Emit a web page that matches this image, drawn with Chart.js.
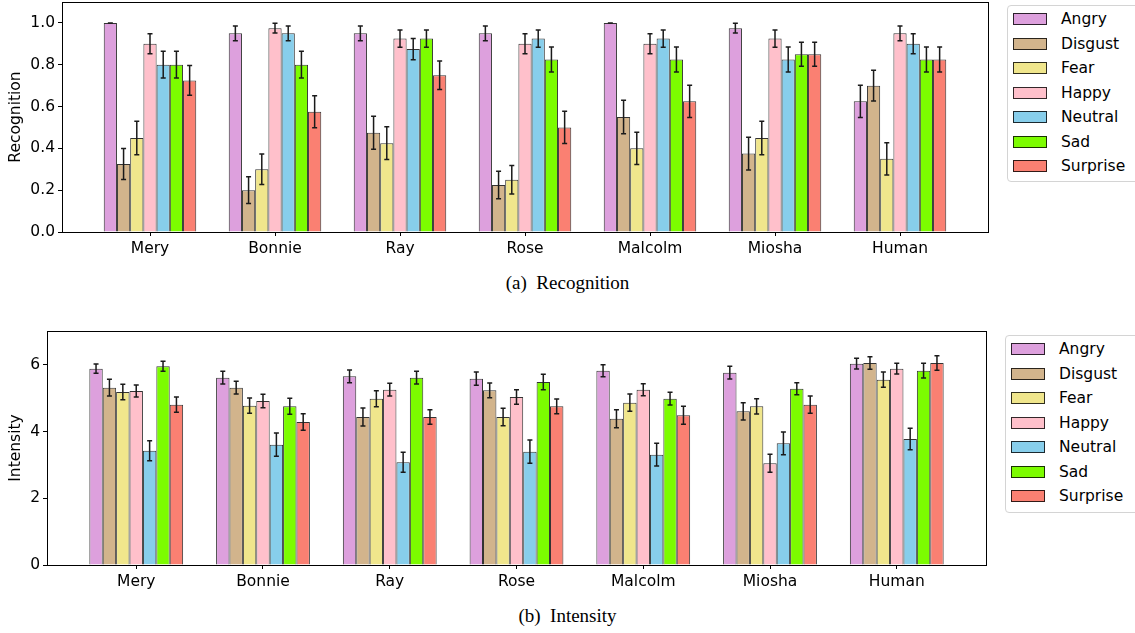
<!DOCTYPE html>
<html>
<head>
<meta charset="utf-8">
<script src="https://cdn.jsdelivr.net/npm/chart.js@4/dist/chart.umd.min.js"></script>
<style>
  html, body { margin: 0; padding: 0; background: #fff; overflow: hidden; }
  body { width: 1135px; height: 633px; position: relative; font-family: "DejaVu Sans", sans-serif; }
  canvas { position: absolute; left: 0; }
  .legend { position: absolute; border: 1px solid #d4d4d4; border-radius: 4px; background: #fff;
            width: 140px; box-sizing: border-box; padding-top: 1px; }
  .legend .row { height: 24.5px; display: flex; align-items: center; font-size: 15.5px; color: #000; }
  .legend .sw { width: 34px; height: 12px; box-sizing: border-box; border: 1px solid rgba(0,0,0,0.8);
                margin-left: 5px; margin-right: 14px; }
  .caption { position: absolute; left: 0; width: 1135px; text-align: center;
             font-family: "Liberation Serif", "Times New Roman", serif; font-size: 19px; color: #000; }
</style>
</head>
<body>
<canvas id="chart1" width="1000" height="265" style="top:0px"></canvas>
<div class="legend" id="legend1" style="left:1007px; top:5px; height:177px"></div>
<div class="caption" style="top:272px">(a)&nbsp; Recognition</div>

<canvas id="chart2" width="1000" height="280" style="top:320px"></canvas>
<div class="legend" id="legend2" style="left:1005px; top:335px; height:178px"></div>
<div class="caption" style="top:605px">(b)&nbsp; Intensity</div>

<script>
const subjects = ['Mery', 'Bonnie', 'Ray', 'Rose', 'Malcolm', 'Miosha', 'Human'];
const emotions = ['Angry', 'Disgust', 'Fear', 'Happy', 'Neutral', 'Sad', 'Surprise'];
const colors = ['#DDA0DD', '#D2B48C', '#F0E68C', '#FFC0CB', '#87CEEB', '#7CFC00', '#FA8072'];

// recognition rate per emotion, one value per subject
const recAngry    = [1.0, 0.95, 0.95, 0.95, 1.0, 0.975, 0.625];
const recDisgust  = [0.325, 0.20, 0.475, 0.225, 0.55, 0.375, 0.70];
const recFear     = [0.45, 0.30, 0.425, 0.25, 0.40, 0.45, 0.35];
const recHappy    = [0.90, 0.975, 0.925, 0.90, 0.90, 0.925, 0.95];
const recNeutral  = [0.80, 0.95, 0.875, 0.925, 0.925, 0.825, 0.90];
const recSad      = [0.80, 0.80, 0.925, 0.825, 0.825, 0.85, 0.825];
const recSurprise = [0.725, 0.575, 0.75, 0.50, 0.625, 0.85, 0.825];

const recAngryErr    = [0, 0.035, 0.035, 0.035, 0, 0.023, 0.077];
const recDisgustErr  = [0.074, 0.064, 0.079, 0.066, 0.08, 0.078, 0.073];
const recFearErr     = [0.08, 0.073, 0.078, 0.068, 0.077, 0.08, 0.077];
const recHappyErr    = [0.048, 0.023, 0.041, 0.048, 0.048, 0.041, 0.035];
const recNeutralErr  = [0.064, 0.035, 0.051, 0.041, 0.041, 0.06, 0.048];
const recSadErr      = [0.064, 0.064, 0.041, 0.06, 0.06, 0.057, 0.06];
const recSurpriseErr = [0.071, 0.077, 0.068, 0.077, 0.077, 0.057, 0.06];

// intensity rating per emotion
const intAngry    = [5.89, 5.62, 5.66, 5.59, 5.83, 5.77, 6.04];
const intDisgust  = [5.32, 5.32, 4.44, 5.24, 4.39, 4.61, 6.06];
const intFear     = [5.19, 4.78, 4.99, 4.44, 4.87, 4.76, 5.56];
const intHappy    = [5.22, 4.92, 5.26, 5.04, 5.26, 3.05, 5.89];
const intNeutral  = [3.43, 3.61, 3.08, 3.40, 3.31, 3.65, 3.78];
const intSad      = [5.96, 4.76, 5.62, 5.49, 4.99, 5.29, 5.83];
const intSurprise = [4.81, 4.29, 4.44, 4.76, 4.49, 4.81, 6.06];

const intAngryErr    = [0.14, 0.19, 0.19, 0.20, 0.18, 0.19, 0.16];
const intDisgustErr  = [0.25, 0.19, 0.27, 0.22, 0.27, 0.26, 0.19];
const intFearErr     = [0.23, 0.23, 0.24, 0.26, 0.26, 0.23, 0.23];
const intHappyErr    = [0.18, 0.20, 0.19, 0.22, 0.18, 0.27, 0.16];
const intNeutralErr  = [0.30, 0.35, 0.30, 0.35, 0.34, 0.34, 0.32];
const intSadErr      = [0.15, 0.24, 0.19, 0.23, 0.19, 0.18, 0.22];
const intSurpriseErr = [0.23, 0.25, 0.22, 0.22, 0.27, 0.26, 0.22];

const recValues = [recAngry, recDisgust, recFear, recHappy, recNeutral, recSad, recSurprise];
const recErrors = [recAngryErr, recDisgustErr, recFearErr, recHappyErr, recNeutralErr, recSadErr, recSurpriseErr];
const intValues = [intAngry, intDisgust, intFear, intHappy, intNeutral, intSad, intSurprise];
const intErrors = [intAngryErr, intDisgustErr, intFearErr, intHappyErr, intNeutralErr, intSadErr, intSurpriseErr];

const tickFont = { family: 'DejaVu Sans', size: 15.5 };

const errorBars = {
  id: 'errorBars',
  afterDatasetsDraw(chart) {
    const ctx = chart.ctx, y = chart.scales.y;
    ctx.save();
    ctx.strokeStyle = '#1a1a1a';
    ctx.lineWidth = 1.5;
    chart.data.datasets.forEach((ds, i) => {
      chart.getDatasetMeta(i).data.forEach((bar, j) => {
        const v = ds.data[j].y, e = ds.errors[j];
        const y1 = y.getPixelForValue(v - e), y2 = y.getPixelForValue(v + e), x = bar.x;
        ctx.beginPath();
        ctx.moveTo(x, y1); ctx.lineTo(x, y2);
        ctx.moveTo(x - 2.5, y1); ctx.lineTo(x + 2.5, y1);
        ctx.moveTo(x - 2.5, y2); ctx.lineTo(x + 2.5, y2);
        ctx.stroke();
      });
    });
    ctx.restore();
  }
};

const frame = {
  id: 'frame',
  afterDraw(chart) {
    const a = chart.chartArea, ctx = chart.ctx;
    ctx.save();
    ctx.strokeStyle = '#000';
    ctx.lineWidth = 1;
    ctx.strokeRect(Math.round(a.left) + 0.5, Math.round(a.top) + 0.5,
                   Math.round(a.right - a.left), Math.round(a.bottom - a.top));
    ctx.restore();
  }
};

function makeChart(id, values, errors, opts) {
  const datasets = emotions.map((name, i) => ({
    label: name,
    data: values[i].map((v, j) => ({ x: j, y: v })),
    errors: errors[i],
    backgroundColor: colors[i],
    borderColor: 'rgba(0,0,0,0.8)',
    borderWidth: 1,
    categoryPercentage: 0.74,
    barPercentage: 1.0
  }));
  return new Chart(document.getElementById(id).getContext('2d'), {
    type: 'bar',
    data: { datasets },
    plugins: [errorBars, frame],
    options: {
      responsive: false,
      animation: false,
      layout: { padding: opts.padding },
      plugins: { legend: { display: false }, tooltip: { enabled: false } },
      scales: {
        x: {
          type: 'linear', offset: false, min: -0.704, max: 6.704,
          afterBuildTicks: s => { s.ticks = subjects.map((_, i) => ({ value: i })); },
          afterFit: s => { s.height = opts.xHeight; s.paddingLeft = 0; s.paddingRight = 0; },
          grid: { display: true, drawOnChartArea: false, drawTicks: true, tickLength: 4, color: '#000', offset: false },
          border: { display: true, color: '#000', width: 1 },
          ticks: { font: tickFont, color: '#000', padding: 4, maxRotation: 0, autoSkip: false,
                   callback: v => subjects[v] }
        },
        y: {
          min: 0, max: opts.yMax,
          afterFit: s => { s.width = opts.yWidth; s.paddingTop = 0; s.paddingBottom = 0; },
          grid: { display: true, drawOnChartArea: false, drawTicks: true, tickLength: 4, color: '#000' },
          border: { display: true, color: '#000', width: 1 },
          ticks: { font: tickFont, color: '#000', padding: 3, stepSize: opts.step, includeBounds: false,
                   callback: opts.fmt },
          title: { display: true, text: opts.title, font: { family: 'DejaVu Sans', size: 15.5 },
                   color: '#000', padding: { top: 7, bottom: 0 } }
        }
      }
    }
  });
}

function makeLegend(id) {
  const box = document.getElementById(id);
  emotions.forEach((name, i) => {
    const row = document.createElement('div');
    row.className = 'row';
    const sw = document.createElement('span');
    sw.className = 'sw';
    sw.style.background = colors[i];
    row.appendChild(sw);
    row.appendChild(document.createTextNode(name));
    box.appendChild(row);
  });
}

makeChart('chart1', recValues, recErrors, {
  padding: { left: 0, right: 12, top: 2, bottom: 0 }, xHeight: 33, yWidth: 62,
  yMax: 1.1, step: 0.2, fmt: v => v.toFixed(1), title: 'Recognition'
});
makeChart('chart2', intValues, intErrors, {
  padding: { left: 0, right: 14, top: 11, bottom: 0 }, xHeight: 35, yWidth: 47,
  yMax: 7.02, step: 2, fmt: v => String(Math.round(v)), title: 'Intensity'
});
makeLegend('legend1');
makeLegend('legend2');
</script>
</body>
</html>
